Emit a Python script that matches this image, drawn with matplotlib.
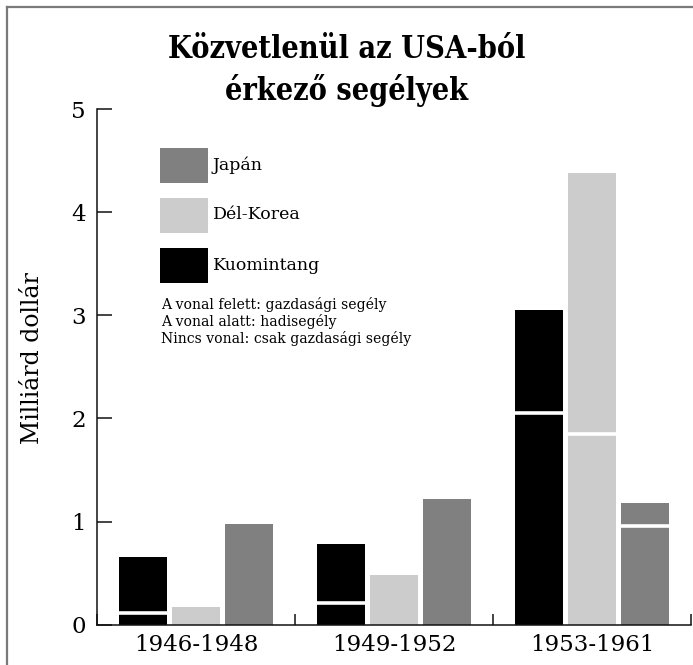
import matplotlib
matplotlib.use("Agg")
import matplotlib.pyplot as plt
from matplotlib.patches import Rectangle
from matplotlib.lines import Line2D

categories = ['1946-1948', '1949-1952', '1953-1961']
series_names = ['Kuomintang', 'Dél-Korea', 'Japán']
kuomintang_total = [0.66, 0.78, 3.05]
kuomintang_military = [0.11, 0.21, 2.05]
korea_total = [0.17, 0.48, 4.38]
korea_military = [None, None, 1.85]
japan_total = [0.98, 1.22, 1.18]
japan_military = [None, None, 0.96]
yticks = [0, 1, 2, 3, 4, 5]
title_lines = ['Közvetlenül az USA-ból', 'érkező segélyek']
ylabel = 'Milliárd dollár'
notes = ['A vonal felett: gazdasági segély',
         'A vonal alatt: hadisegély',
         'Nincs vonal: csak gazdasági segély']

colors = ['#000000', '#cccccc', '#808080']
SERIF = 'DejaVu Serif'

W, H = 693, 665
fig = plt.figure(figsize=(W / 100, H / 100), dpi=100)

def fx(px):
    return px / W

def fy(py):
    return 1 - py / H

ax = fig.add_axes([fx(97), fy(624.7), fx(691) - fx(97), fy(109) - fy(624.7)])
ax.set_xlim(0, 3)
ax.set_ylim(0, 5)

totals = [kuomintang_total, korea_total, japan_total]
militaries = [kuomintang_military, korea_military, japan_military]
offsets = [-0.267, 0.0, 0.267]
bw = 0.245
for s in range(3):
    xs = [i + 0.5 + offsets[s] for i in range(len(categories))]
    ax.bar(xs, totals[s], width=bw, color=colors[s], edgecolor='none', zorder=2)
    for x, m in zip(xs, militaries[s]):
        if m is not None:
            ax.hlines(m, x - bw / 2, x + bw / 2, colors='white', linewidth=2.6, zorder=3)

for sp in ['top', 'right']:
    ax.spines[sp].set_visible(False)
for sp in ['left', 'bottom']:
    ax.spines[sp].set_linewidth(1.1)
    ax.spines[sp].set_color('#111111')

ax.set_yticks(yticks)
ax.set_yticklabels([str(v) for v in yticks], fontfamily=SERIF, fontsize=16.5)
ax.tick_params(axis='y', direction='in', length=11, width=1.1, pad=8, color='#111111')
ax.set_xticks([0, 1, 2, 3])
ax.set_xticklabels([])
ax.tick_params(axis='x', which='major', direction='in', length=8, width=1.1, color='#111111')
ax.set_xticks([i + 0.5 for i in range(len(categories))], minor=True)
ax.set_xticklabels(categories, minor=True, fontfamily=SERIF, fontsize=16.5)
ax.tick_params(axis='x', which='minor', length=0, pad=7)

# y label
fig.text(fx(33), fy(358), ylabel, rotation=90, ha='center', va='center',
         fontfamily=SERIF, fontsize=17)

# title
fig.text(0.5, fy(58), title_lines[0], ha='center', va='baseline', fontfamily=SERIF,
         fontweight='bold', fontstretch='condensed', fontsize=22)
fig.text(0.5, fy(100), title_lines[1], ha='center', va='baseline', fontfamily=SERIF,
         fontweight='bold', fontstretch='condensed', fontsize=22)

# legend
leg_order = [2, 1, 0]
tops = [148, 198, 248]
for k, s in enumerate(leg_order):
    top = tops[k]
    fig.add_artist(Rectangle((fx(160), fy(top + 35)), fx(208) - fx(160), fy(top) - fy(top + 35),
                             facecolor=colors[s], edgecolor='none', transform=fig.transFigure))
    fig.text(fx(213), fy(top + 17), series_names[s], ha='left', va='center',
             fontfamily=SERIF, fontsize=12.5)

for k, line in enumerate(notes):
    fig.text(fx(161), fy(305 + 17 * k), line, ha='left', va='center',
             fontfamily=SERIF, fontsize=10.1)

# figure border (left and top)
fig.add_artist(Line2D([fx(7), fx(7)], [0, fy(7)], color='#7a7a7a', linewidth=1.6,
                      transform=fig.transFigure))
fig.add_artist(Line2D([fx(7), 1], [fy(7), fy(7)], color='#7a7a7a', linewidth=1.6,
                      transform=fig.transFigure))

fig.savefig('out.png', dpi=100)
